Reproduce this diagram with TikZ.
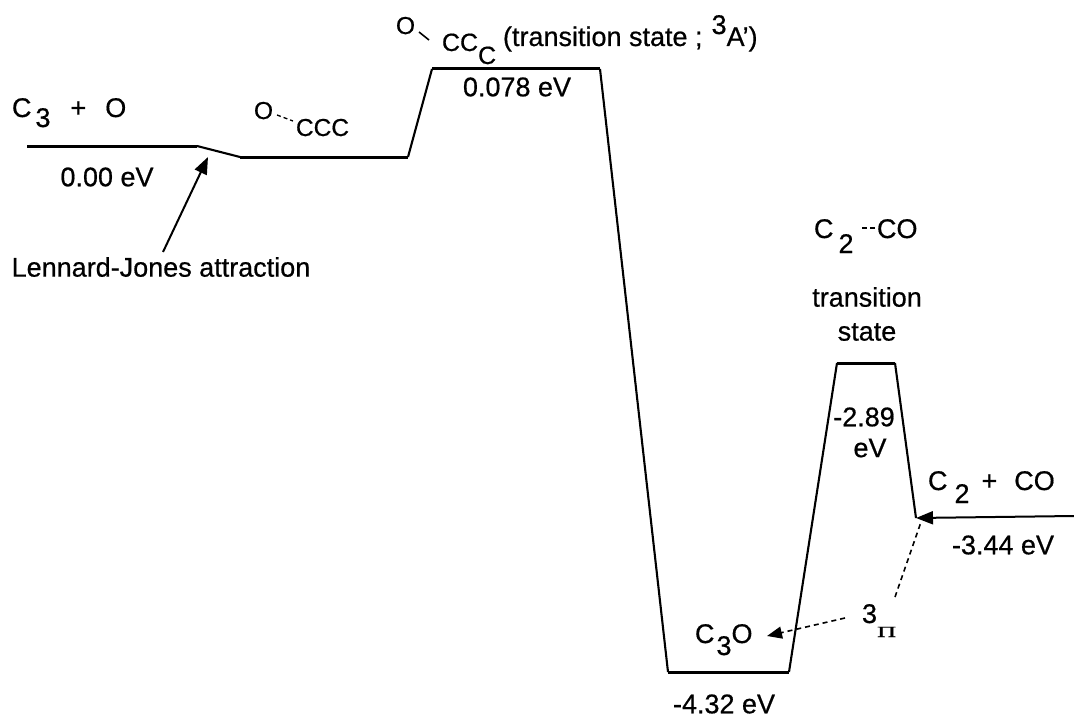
\documentclass[tikz,border=0pt]{standalone}
\usepackage{fontspec}
\setmainfont{Liberation Sans}[FakeBold=0.6]
\newfontfamily\serifpi{Liberation Serif}[FakeBold=0.6]
\usetikzlibrary{arrows.meta}
\newcommand\lowr[2]{\raisebox{-#1pt}{#2}}
\begin{document}
\begin{tikzpicture}[x=1pt,y=-1pt,
  lbl/.style={inner sep=0pt,outer sep=0pt,font=\fontsize{27}{31}\selectfont},
  smalllbl/.style={inner sep=0pt,outer sep=0pt,font=\fontsize{24.5}{28}\selectfont},
  midlbl/.style={inner sep=0pt,outer sep=0pt,font=\fontsize{25}{29}\selectfont},
  wall/.style={line width=2.1pt,line join=miter},
  level/.style={line width=3pt},
  solidarrow/.style={line width=2pt,-{Triangle[length=17pt,width=13pt]}},
  dasharrow/.style={line width=1.6pt,dash pattern=on 5pt off 4pt,-{Triangle[length=15pt,width=12pt]}},
  dashline/.style={line width=1.6pt,dash pattern=on 5pt off 4pt}]
\useasboundingbox (0,0) rectangle (1074,717);
% energy profile
\coordinate (r0) at (27,146);
\coordinate (r1) at (197,146);
\coordinate (w0) at (240,157);
\coordinate (w1) at (408,157);
\coordinate (t0) at (432,69);
\coordinate (t1) at (600,69);
\coordinate (b0) at (668,672);
\coordinate (b1) at (789,672);
\coordinate (s0) at (837,363);
\coordinate (s1) at (895,363);
\coordinate (p0) at (916,518);
\coordinate (pend) at (1074,516);
\draw[wall] (r1) -- (w0) (w1) -- (t0) (t1) -- (b0) (b1) -- (s0) (s1) -- (p0);
\draw[level] (r0) -- (r1) (w0) -- (w1) (t0) -- (t1) (b0) -- (b1) (s0) -- (s1);
\draw[solidarrow] (pend) -- (p0);
% labels
\node[lbl,anchor=base west] (reac) at (12,117) {C\hspace{4pt}\lowr{10}{3}\hspace{20pt}+\hspace{19pt}O};
\node[lbl] (e0) at (107,177) {0.00 eV};
\node[lbl] (lj) at (161,267) {Lennard-Jones attraction};
\coordinate (ljstart) at (163,252);
\coordinate (ljtip) at (208,157);
\draw[solidarrow] (ljstart) -- (ljtip);
% O...CCC
\node[smalllbl,anchor=base west] (wO) at (254,119) {O};
\node[smalllbl,anchor=base west] (wC) at (296,136) {CCC};
\draw[line width=1.3pt,dash pattern=on 4pt off 3pt] (277,115) -- (293,121);
% top transition state
\node[smalllbl,anchor=base west] (tO) at (396,34) {O};
\draw[line width=1.6pt] (419,32) -- (429,40);
\node[midlbl,anchor=base west] (tC) at (442,51) {CC\raisebox{-13pt}{C}};
\node[lbl,anchor=base west] (tts) at (503,46) {(transition state ;\hspace{9pt}\raisebox{12pt}{3}A')};
\node[lbl] (e1) at (517,87) {0.078 eV};
% C2--CO TS
\node[lbl,anchor=base west] (sC) at (814,238) {C\hspace{5pt}\lowr{15}{2}};
\draw[line width=1.3pt,dash pattern=on 5pt off 3pt] (862,228) -- (876,228);
\node[lbl,anchor=base west] (sCO) at (877,238) {CO};
\node[lbl] (sts1) at (867,297) {transition};
\node[lbl] (sts2) at (867,332) {state};
\node[lbl] (e2a) at (864,417) {-2.89};
\node[lbl] (e2b) at (870,448) {eV};
% products
\node[lbl,anchor=base west] (prod) at (928,490) {C\hspace{7pt}\lowr{13}{2}\hspace{12pt}+\hspace{17pt}CO};
\node[lbl] (e3) at (1003,545) {-3.44 eV};
% C3O
\node[lbl,anchor=base west] (c3o) at (695,643) {C\hspace{2pt}\lowr{12}{3}O};
\node[lbl] (e4) at (724,704) {-4.32 eV};
% 3Pi
\node[lbl,anchor=base west] (pi) at (862,623) {3\raisebox{-14pt}{\scalebox{0.95}[0.55]{\serifpi\fontsize{28}{28}\selectfont Π}}};
\coordinate (pistart) at (845,618);
\coordinate (pitip) at (767,636);
\draw[dasharrow] (pistart) -- (pitip);
\coordinate (pitop) at (895,597);
\coordinate (pjoin) at (921,522);
\draw[dashline] (pitop) -- (pjoin);
\end{tikzpicture}
\end{document}
